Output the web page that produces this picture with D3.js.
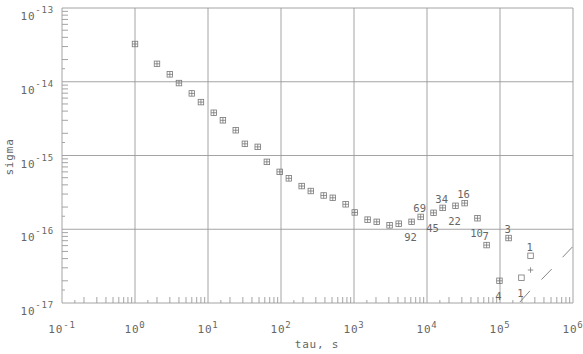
<!DOCTYPE html>
<html lang="en">

<head>
    <meta charset="UTF-8">
    <title>sigma vs tau</title>
    <script src="https://d3js.org/d3.v7.min.js"></script>
    <style>
        html,
        body {
            margin: 0;
            background: #fff;
            overflow: hidden;
        }
        text {
            font-family: "DejaVu Sans Mono", monospace;
            fill: #666;
            letter-spacing: 0.8px;
        }
        text.count {
            letter-spacing: 0;
            font-size: 10.5px;
        }
    </style>
</head>

<body>
    <svg id="svg"></svg>
    <script>
        // data
        const tau = [1, 2, 3, 4, 6, 8, 12, 16, 24, 32, 48, 64, 96, 128, 192, 256, 384, 512, 768, 1024,
            1536, 2048, 3072, 4096, 6144, 8192, 12288, 16384, 24576, 32768, 49152, 65536, 98304, 131072,
            196608, 262144];
        const sigma = [3.25e-14, 1.75e-14, 1.26e-14, 9.6e-15, 6.95e-15, 5.3e-15, 3.8e-15, 3.0e-15, 2.2e-15,
            1.44e-15, 1.31e-15, 8.2e-16, 6.0e-16, 4.9e-16, 3.85e-16, 3.3e-16, 2.87e-16, 2.67e-16, 2.18e-16,
            1.69e-16, 1.35e-16, 1.26e-16, 1.13e-16, 1.19e-16, 1.26e-16, 1.47e-16, 1.67e-16, 1.95e-16,
            2.08e-16, 2.26e-16, 1.41e-16, 6.1e-17, 2.0e-17, 7.6e-17, 2.2e-17, 4.36e-17];
        // the "+" markers (coincide with the squares except at the end)
        const plusSigma = [3.25e-14, 1.75e-14, 1.26e-14, 9.6e-15, 6.95e-15, 5.3e-15, 3.8e-15, 3.0e-15, 2.2e-15,
            1.44e-15, 1.31e-15, 8.2e-16, 6.0e-16, 4.9e-16, 3.85e-16, 3.3e-16, 2.87e-16, 2.67e-16, 2.18e-16,
            1.69e-16, 1.35e-16, 1.26e-16, 1.13e-16, 1.19e-16, 1.26e-16, 1.47e-16, 1.67e-16, 1.95e-16,
            2.08e-16, 2.26e-16, 1.41e-16, 6.1e-17, 2.0e-17, 7.6e-17, null, 2.8e-17];

        const labelTau = [6144, 8192, 12288, 16384, 24576, 32768, 49152, 65536, 98304, 131072, 196608, 262144];
        const labelText = ["92", "69", "45", "34", "22", "16", "10", "7", "4", "3", "1", "1"];
        const labelAbove = [false, true, false, true, false, true, false, true, false, true, false, true];

        // slash marks at the lower right, [tau1, sigma1, tau2, sigma2]
        const slashes = [
            [7.2e5, 4.17e-17, 9.8e5, 5.75e-17],
            [3.7e5, 2.08e-17, 5.1e5, 2.88e-17],
            [1.87e5, 1.03e-17, 2.57e5, 1.46e-17]
        ];

        const xExp = [-1, 0, 1, 2, 3, 4, 5, 6];
        const yExp = [-17, -16, -15, -14, -13];

        const width = 583, height = 354;
        const svg = d3.select("#svg").attr('width', width).attr('height', height);
        const margin = { top: 8, left: 62, bottom: 51, right: 10 };

        const x = d3.scaleLog().domain([1e-1, 1e6]).range([margin.left, width - margin.right]);
        const y = d3.scaleLog().domain([1e-17, 1e-13]).range([height - margin.bottom, margin.top]);
        const gridColor = '#9a9a9a';
        const markColor = '#777';

        // grid at decades
        svg.append('g').selectAll('line').data(xExp).join('line')
            .attr('x1', d => x(Math.pow(10, d))).attr('x2', d => x(Math.pow(10, d)))
            .attr('y1', y.range()[0]).attr('y2', y.range()[1])
            .attr('stroke', gridColor).attr('stroke-width', 0.9);
        svg.append('g').selectAll('line').data(yExp).join('line')
            .attr('y1', d => y(Math.pow(10, d))).attr('y2', d => y(Math.pow(10, d)))
            .attr('x1', x.range()[0]).attr('x2', x.range()[1])
            .attr('stroke', gridColor).attr('stroke-width', 0.9);

        // minor ticks: 1.5, 2..9 of each decade
        const mult = [1.5, 2, 3, 4, 5, 6, 7, 8, 9];
        const xMinor = [], yMinor = [];
        xExp.slice(0, -1).forEach(e => mult.forEach(m => xMinor.push(m * Math.pow(10, e))));
        yExp.slice(0, -1).forEach(e => mult.forEach(m => yMinor.push(m * Math.pow(10, e))));
        const tickLen = v => (Math.abs(v / Math.pow(10, Math.floor(Math.log10(v))) - 1.5) < 1e-6 ? 3 : 6);

        svg.append('g').selectAll('line').data(xMinor).join('line')
            .attr('x1', d => x(d)).attr('x2', d => x(d))
            .attr('y1', y.range()[0]).attr('y2', d => y.range()[0] - tickLen(d))
            .attr('stroke', gridColor).attr('stroke-width', 0.9);
        svg.append('g').selectAll('line').data(yMinor).join('line')
            .attr('y1', d => y(d)).attr('y2', d => y(d))
            .attr('x1', x.range()[0]).attr('x2', d => x.range()[0] + tickLen(d))
            .attr('stroke', gridColor).attr('stroke-width', 0.9);

        // decade labels
        const xl = svg.append('g').selectAll('text').data(xExp).join('text')
            .attr('x', d => x(Math.pow(10, d)))
            .attr('y', y.range()[0] + 30)
            .attr('text-anchor', 'middle')
            .style('font-size', '11px');
        xl.append('tspan').text('10');
        xl.append('tspan').attr('dy', -5).style('font-size', '9px').text(d => d);

        const yl = svg.append('g').selectAll('text').data(yExp).join('text')
            .attr('x', x.range()[0] - 8)
            .attr('y', d => y(Math.pow(10, d)) + 12)
            .attr('text-anchor', 'end')
            .style('font-size', '11px');
        yl.append('tspan').text('10');
        yl.append('tspan').attr('dy', -7).style('font-size', '9px').text(d => d);

        // axis titles
        svg.append('text').attr('x', 317).attr('y', 348)
            .attr('text-anchor', 'middle').style('font-size', '11px').text('tau, s');
        svg.append('text').attr('transform', 'translate(13,157) rotate(-90)')
            .attr('text-anchor', 'middle').style('font-size', '11px').text('sigma');

        // squares
        const pts = tau.map((t, i) => ({ t: t, s: sigma[i], p: plusSigma[i] }));
        const sz = 5.5;
        svg.append('g').selectAll('rect').data(pts).join('rect')
            .attr('x', d => x(d.t) - sz / 2).attr('y', d => y(d.s) - sz / 2)
            .attr('width', sz).attr('height', sz)
            .attr('fill', 'none').attr('stroke', markColor).attr('stroke-width', 0.8);

        // pluses
        svg.append('g').selectAll('path').data(pts.filter(d => d.p != null)).join('path')
            .attr('d', d => {
                const cx = x(d.t), cy = y(d.p), h = sz / 2;
                return `M${cx - h},${cy}H${cx + h}M${cx},${cy - h}V${cy + h}`;
            })
            .attr('stroke', markColor).attr('stroke-width', 0.8).attr('fill', 'none');

        // slashes
        svg.append('g').selectAll('line').data(slashes).join('line')
            .attr('x1', d => x(d[0])).attr('y1', d => y(d[1]))
            .attr('x2', d => x(d[2])).attr('y2', d => y(d[3]))
            .attr('stroke', markColor).attr('stroke-width', 0.9);

        // count labels
        svg.append('g').selectAll('text').data(labelTau).join('text')
            .attr('class', 'count')
            .attr('x', d => x(d) - 1)
            .attr('y', (d, i) => y(sigma[tau.indexOf(d)]) + (labelAbove[i] ? -5 : 19))
            .attr('text-anchor', 'middle')
            .text((d, i) => labelText[i]);
    </script>
</body>

</html>
